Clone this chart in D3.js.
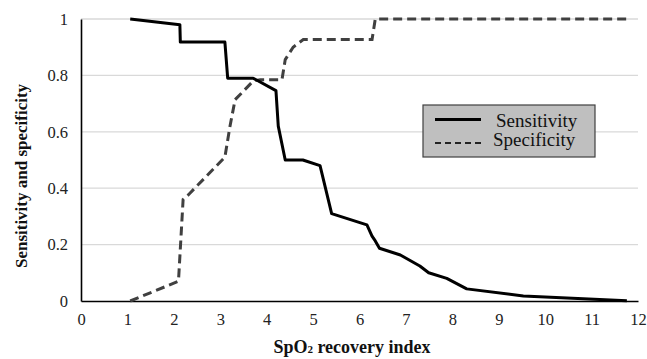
<!DOCTYPE html>
<html>
<head>
<meta charset="utf-8">
<script src="https://cdn.jsdelivr.net/npm/d3@7"></script>
<style>
  body{margin:0;background:#fff}
  svg{display:block;font-family:'Liberation Serif','Times New Roman',serif}
</style>
</head>
<body>
<svg id="chart" width="647" height="359"></svg>
<script>
// sensitivity curve (x = SpO2 recovery index, y = value)
const sensX = [1.06, 2.13, 2.14, 3.10, 3.16, 3.71, 4.20, 4.25, 4.40, 4.78, 5.15, 5.40, 6.16, 6.27, 6.34, 6.43, 6.88, 7.30, 7.49, 7.88, 8.31, 9.53, 11.76];
const sensY = [1.00, 0.98, 0.918, 0.918, 0.79, 0.79, 0.746, 0.62, 0.50, 0.50, 0.48, 0.31, 0.27, 0.23, 0.213, 0.187, 0.163, 0.124, 0.10, 0.08, 0.043, 0.018, 0.001];
// specificity curve
const specX = [1.06, 2.10, 2.20, 2.31, 3.10, 3.21, 3.32, 3.71, 3.86, 4.33, 4.40, 4.57, 4.79, 6.27, 6.34, 11.76];
const specY = [0.00, 0.07, 0.36, 0.376, 0.51, 0.62, 0.714, 0.78, 0.785, 0.785, 0.856, 0.90, 0.927, 0.927, 1.00, 1.00];

const xTicks = d3.range(0, 13, 1);
const yTicks = [0, 0.2, 0.4, 0.6, 0.8, 1];
const seriesNames = ['Sensitivity', 'Specificity'];

const svg = d3.select('#chart');
const margin = { top: 19, right: 9, bottom: 58, left: 81 };
const W = 647, H = 359;
const x = d3.scaleLinear().domain([0, 12]).range([margin.left, W - margin.right]);
const y = d3.scaleLinear().domain([0, 1]).range([H - margin.bottom, margin.top]);

// gridlines
svg.append('g').selectAll('line').data(yTicks.filter(d => d > 0)).enter().append('line')
  .attr('x1', x(0)).attr('x2', x(12))
  .attr('y1', d => y(d)).attr('y2', d => y(d))
  .attr('stroke', '#d9d9d9').attr('stroke-width', 1.3);

// axes
const xAxis = svg.append('g').attr('transform', `translate(0,${y(0)})`)
  .call(d3.axisBottom(x).tickValues(xTicks).tickSize(0).tickPadding(12).tickFormat(d3.format('d')));
const yAxis = svg.append('g').attr('transform', `translate(${x(0)},0)`)
  .call(d3.axisLeft(y).tickValues(yTicks).tickSize(0).tickPadding(13).tickFormat(d => d === 0 || d === 1 ? d : d.toFixed(1)));
[xAxis, yAxis].forEach(a => {
  a.select('.domain').attr('stroke', '#000').attr('stroke-width', 1.6);
  a.selectAll('text').attr('fill', '#222').style('font-size', '16.5px')
    .style('font-family', "'Liberation Serif', serif");
});

// lines
const line = d3.line().x(d => x(d[0])).y(d => y(d[1])).curve(d3.curveLinear);
const sens = sensX.map((v, i) => [v, sensY[i]]);
const spec = specX.map((v, i) => [v, specY[i]]);

svg.append('path').datum(spec).attr('d', line)
  .attr('fill', 'none').attr('stroke', '#404040').attr('stroke-width', 3)
  .attr('stroke-dasharray', '9,5');
svg.append('path').datum(sens).attr('d', line)
  .attr('fill', 'none').attr('stroke', '#000').attr('stroke-width', 3)
  .attr('stroke-linejoin', 'round');

// legend
const lg = svg.append('g').attr('transform', 'translate(423,105)');
lg.append('rect').attr('width', 172).attr('height', 52)
  .attr('fill', '#bfbfbf').attr('stroke', '#404040').attr('stroke-width', 1.2);
lg.append('line').attr('x1', 12).attr('x2', 58).attr('y1', 14.5).attr('y2', 14.5)
  .attr('stroke', '#000').attr('stroke-width', 3);
lg.append('line').attr('x1', 12).attr('x2', 58).attr('y1', 38).attr('y2', 38)
  .attr('stroke', '#222').attr('stroke-width', 2).attr('stroke-dasharray', '6,4');
lg.selectAll('text.lbl').data(seriesNames).enter().append('text')
  .attr('x', (d, i) => i === 0 ? 73 : 70).attr('y', (d, i) => 21.5 + i * 19)
  .attr('fill', '#111').style('font-size', '19px').text(d => d);

// axis titles
svg.append('text')
  .attr('transform', 'translate(27,176) rotate(-90)')
  .attr('text-anchor', 'middle').attr('fill', '#111')
  .style('font-size', '17px').style('font-weight', 'bold')
  .text('Sensitivity and specificity');

const xt = svg.append('text')
  .attr('x', 352).attr('y', 353)
  .attr('text-anchor', 'middle').attr('fill', '#111')
  .style('font-size', '18px').style('font-weight', 'bold');
xt.append('tspan').text('SpO');
xt.append('tspan').style('font-size', '11px').text('2');
xt.append('tspan').text(' recovery index');
</script>
</body>
</html>
